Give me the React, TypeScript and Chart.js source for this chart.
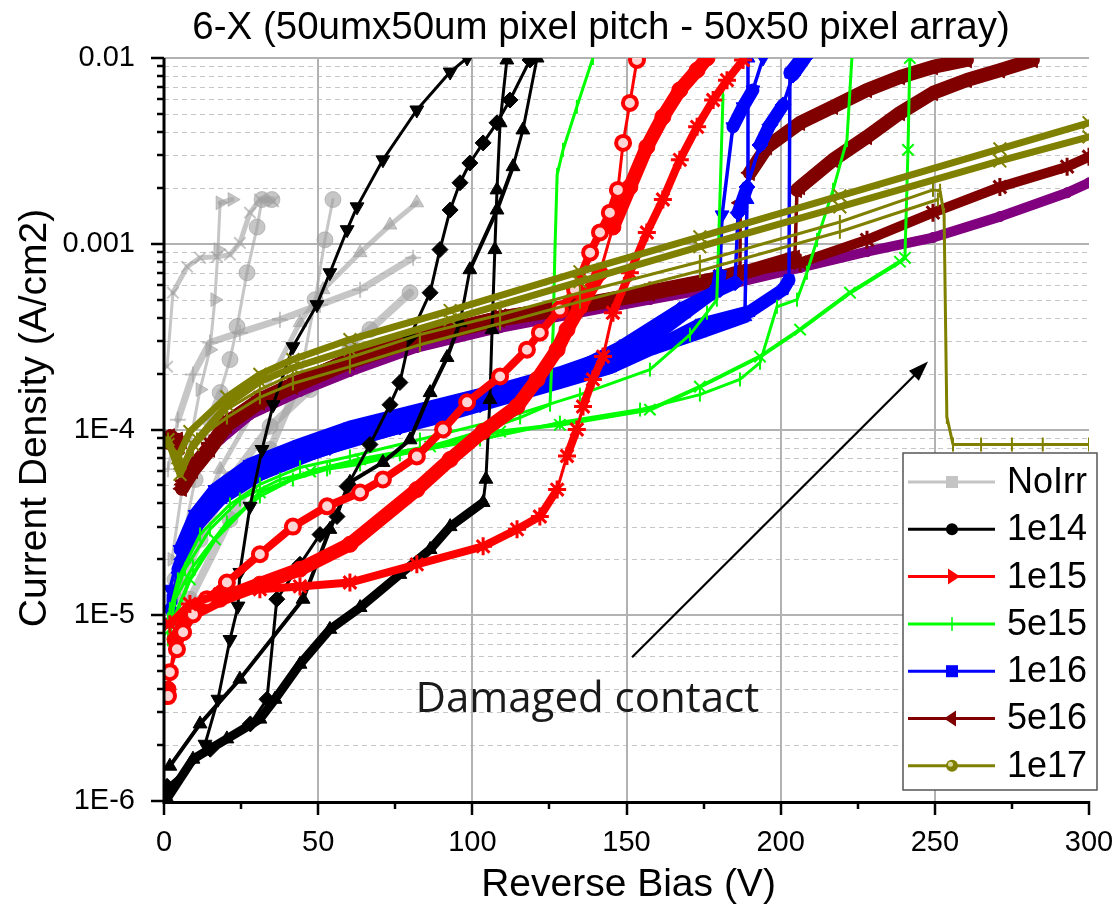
import React, { useEffect, useRef } from 'react';
import { Chart, registerables } from 'chart.js';

Chart.register(...registerables);

// ---------------- axes / labels ----------------
const xTickValues = [0, 50, 100, 150, 200, 250, 300];
const xMinorValues = [25, 75, 125, 175, 225, 275];
const yTickValues = [1e-6, 1e-5, 1e-4, 1e-3, 1e-2];
const yTickLabels = ['1E-6', '1E-5', '1E-4', '0.001', '0.01'];
const yMinorMantissas = [2, 3, 4, 5, 6, 7, 8, 9];
const legendLabels = ['NoIrr', '1e14', '1e15', '5e15', '1e16', '5e16', '1e17'];
const titleText = '6-X (50umx50um pixel pitch - 50x50 pixel array)';
const xTitle = 'Reverse Bias (V)';
const yTitle = 'Current Density (A/cm2)';
const noteText = 'Damaged contact';
const arrowFrom = [151.8, 5.94e-6];
const arrowTo = [247.8, 2.32e-4];
const noteAt = [137.3, 3.5e-6];

// ---------------- NoIrr (grey) ----------------
const nA_V = [1.0, 2.9, 7.5, 11.7, 17.2, 21.4, 24.6, 27.9, 31.1, 35.4];
const nA_J = [2.18e-4, 5.45e-4, 7.52e-4, 8.4e-4, 8.5e-4, 8.73e-4, 1.01e-3, 1.47e-3, 1.73e-3, 1.69e-3];
const nB_V = [2.6, 6.8, 11.7, 14.9, 16.5, 17.5, 18.2, 22.1];
const nB_J = [2.0e-5, 6.1e-5, 1.64e-4, 2.69e-4, 5.0e-4, 9.3e-4, 1.66e-3, 1.73e-3];
const nC_V = [3.6, 10.1, 14.9, 18.2, 21.4, 23.7, 26.9, 30.2, 31.8, 35.0];
const nC_J = [1.56e-5, 5.38e-5, 1.13e-4, 1.58e-4, 2.38e-4, 3.58e-4, 6.98e-4, 1.23e-3, 1.73e-3, 1.73e-3];
const nD_V = [1.3, 4.5, 9.4, 14.9, 24.6, 37.6, 50.6, 63.6, 80.8];
const nD_J = [6.1e-5, 1.13e-4, 1.98e-4, 2.94e-4, 3.32e-4, 3.9e-4, 4.7e-4, 5.66e-4, 8.4e-4];
const nE_V = [3.6, 11.7, 21.4, 34.4, 47.4, 60.3, 66.8, 79.8];
const nE_J = [1.22e-5, 2.56e-5, 5.38e-5, 1.04e-4, 1.64e-4, 2.86e-4, 3.45e-4, 5.45e-4];
const nF_V = [6.8, 18.2, 31.1, 44.1, 51.6, 63.6, 73.3, 82.0];
const nF_J = [2.0e-5, 6.1e-5, 1.45e-4, 3.76e-4, 5.66e-4, 8.95e-4, 1.26e-3, 1.66e-3];
const nG_V = [8.4, 21.4, 34.4, 44.1, 49.0, 52.2, 54.8];
const nG_J = [1.22e-5, 3.28e-5, 7.8e-5, 1.86e-4, 5.0e-4, 1.05e-3, 1.73e-3];

// ---------------- 1e14 (black) ----------------
const k1_V = [13.3, 17.5, 21.4, 24.0, 24.6, 27.9, 31.8, 35.4, 41.8, 49.6, 53.8, 59.4, 62.6, 71.0, 82.0, 92.8, 98.3];
const k1_J = [2.02e-6, 3.53e-6, 7.4e-6, 1.12e-5, 1.7e-5, 3.86e-5, 7.8e-5, 1.36e-4, 2.79e-4, 4.7e-4, 6.98e-4, 1.19e-3, 1.58e-3, 2.83e-3, 5.25e-3, 8.4e-3, 1e-2];
const k2_V = [1.0, 15.0, 28.0, 33.4, 36.6, 44.1, 50.6, 56.1, 59.4, 66.8, 73.3, 76.5, 79.8, 86.3, 89.5, 92.8, 96.0, 99.2, 103.5, 108.0, 112.2, 118.7];
const k2_J = [1.2e-6, 1.9e-6, 2.6e-6, 3.53e-6, 1.22e-5, 1.88e-5, 2.72e-5, 3.4e-5, 4.94e-5, 8.3e-5, 1.36e-4, 1.79e-4, 3.16e-4, 5.45e-4, 9.3e-4, 1.52e-3, 2.13e-3, 2.72e-3, 3.49e-3, 4.48e-3, 5.94e-3, 9.76e-3];
const k3_V = [1.0, 9.4, 20.4, 31.1, 36.0, 44.1, 53.8, 63.6, 76.5, 86.3, 92.8, 103.5, 104.4, 105.7, 106.4, 107.3, 108.0, 109.0, 111.2];
const k3_J = [1.03e-6, 1.68e-6, 2.16e-6, 2.76e-6, 3.53e-6, 5.45e-6, 8.4e-6, 1.1e-5, 1.66e-5, 2.26e-5, 3.0e-5, 4.05e-5, 5.4e-5, 1.45e-4, 3.45e-4, 9.3e-4, 1.95e-3, 4.48e-3, 9.76e-3];
const k4_V = [1.9, 11.7, 24.6, 45.1, 53.8, 60.3, 71.0, 79.8, 86.3, 91.8, 96.0, 99.2, 108.0, 113.2, 116.4, 121.0];
const k4_J = [1.54e-6, 2.6e-6, 4.53e-6, 1.22e-5, 2.9e-5, 5.2e-5, 6.65e-5, 8.8e-5, 1.58e-4, 2.44e-4, 3.76e-4, 7.25e-4, 1.52e-3, 2.6e-3, 4.1e-3, 1e-2];

// ---------------- 1e15 (red) ----------------
const r1_V = [1.9, 8.4, 18.2, 31.1, 44.1, 60.3, 82.0, 103.5, 114.5, 121.9, 127.5, 130.7, 133.9, 135.9, 139.1, 142.4, 145.6, 151.1, 156.6, 161.8, 167.3, 172.9, 178.1, 182.6, 187.8];
const r1_J = [8.95e-6, 1.15e-5, 1.3e-5, 1.38e-5, 1.43e-5, 1.5e-5, 1.88e-5, 2.35e-5, 2.9e-5, 3.4e-5, 4.75e-5, 7.2e-5, 1e-4, 1.33e-4, 1.86e-4, 2.47e-4, 4.25e-4, 6.98e-4, 1.15e-3, 1.73e-3, 2.83e-3, 4.26e-3, 5.94e-3, 7.6e-3, 9.76e-3];
const r2_V = [1.3, 1.9, 4.2, 6.2, 9.4, 13.9, 20.4, 31.1, 41.8, 52.9, 63.6, 71.0, 82.0, 90.5, 98.3, 109.0, 117.7, 121.9, 128.4, 133.3, 138.2, 141.4, 144.6, 147.2, 148.9, 151.1, 153.4];
const r2_J = [3.67e-6, 4.94e-6, 6.56e-6, 8.1e-6, 1.01e-5, 1.22e-5, 1.5e-5, 2.13e-5, 3.0e-5, 3.86e-5, 4.58e-5, 5.38e-5, 7.16e-5, 1e-4, 1.4e-4, 1.93e-4, 2.69e-4, 3.32e-4, 4.42e-4, 5.66e-4, 8.95e-4, 1.15e-3, 1.47e-3, 1.95e-3, 3.49e-3, 5.73e-3, 9.76e-3];
const r3_V = [1.3, 3.6, 8.4, 18.2, 31.1, 44.1, 60.3, 82.0, 92.8, 103.5, 114.5, 121.0, 127.5, 130.7, 134.9, 141.4, 145.6, 151.1, 156.6, 161.8, 167.3, 172.9, 176.1];
const r3_J = [4.0e-6, 7.4e-6, 1.01e-5, 1.22e-5, 1.47e-5, 1.77e-5, 2.41e-5, 4.75e-5, 6.9e-5, 9.76e-5, 1.33e-4, 1.86e-4, 2.69e-4, 3.45e-4, 4.58e-4, 6.98e-4, 1.23e-3, 2.02e-3, 3.32e-3, 4.82e-3, 6.73e-3, 8.6e-3, 1e-2];

// ---------------- 5e15 (green) ----------------
const g1_V = [1.3, 3.6, 9.4, 20.4, 31.1, 41.8, 52.9, 63.6, 83.0, 102.5, 115.5, 125.2, 126.2, 126.8, 127.5, 129.4, 133.9, 139.1];
const g1_J = [7.43e-6, 1.22e-5, 1.83e-5, 3.16e-5, 4.36e-5, 5.38e-5, 6.1e-5, 6.49e-5, 7.8e-5, 9.75e-5, 1.16e-4, 1.36e-4, 3.45e-4, 9.3e-4, 2.35e-3, 3.2e-3, 5.46e-3, 1e-2];
const g2_V = [1.3, 4.5, 11.7, 21.4, 31.1, 44.1, 60.3, 83.0, 109.0, 134.9, 157.6, 170.6, 176.1, 179.3, 180.3, 181.3];
const g2_J = [9.5e-6, 1.56e-5, 2.72e-5, 3.95e-5, 5.06e-5, 6.25e-5, 7.16e-5, 8.83e-5, 1.13e-4, 1.54e-4, 2.1e-4, 3.24e-4, 4.26e-4, 5.0e-4, 1.73e-3, 6.32e-3];
const g3_V = [1.9, 6.8, 14.9, 24.6, 37.6, 53.8, 76.5, 102.5, 128.4, 154.4, 173.8, 186.8, 193.3, 198.8, 205.3, 208.5, 211.8, 217.0, 221.5, 223.1];
const g3_J = [1.08e-5, 1.77e-5, 2.9e-5, 4.2e-5, 5.38e-5, 6.25e-5, 7.34e-5, 8.83e-5, 1.09e-4, 1.28e-4, 1.54e-4, 1.86e-4, 2.29e-4, 4.58e-4, 5.0e-4, 6.98e-4, 1.05e-3, 1.95e-3, 3.62e-3, 1e-2];
const g4_V = [1.9, 8.4, 16.5, 31.1, 47.4, 63.6, 86.3, 109.0, 128.4, 157.6, 173.8, 193.3, 206.3, 222.5, 238.7, 240.3, 241.3, 241.9];
const g4_J = [8.4e-6, 1.56e-5, 2.56e-5, 4.58e-5, 5.94e-5, 6.9e-5, 8.1e-5, 9.75e-5, 1.06e-4, 1.28e-4, 1.7e-4, 2.47e-4, 3.45e-4, 5.45e-4, 8.0e-4, 8.4e-4, 3.2e-3, 1e-2];

// ---------------- 1e16 (blue) ----------------
const b1_V = [1.9, 5.2, 10.1, 16.5, 27.9, 44.1, 60.3, 83.0, 109.0, 128.4, 147.9, 157.6, 170.6, 179.3, 180.3, 181.0, 184.5, 187.8, 191.0, 194.3];
const b1_J = [1.38e-5, 2.26e-5, 3.49e-5, 4.75e-5, 6.49e-5, 8.3e-5, 1.03e-4, 1.28e-4, 1.64e-4, 2.02e-4, 2.62e-4, 3.05e-4, 4.42e-4, 5.66e-4, 6.8e-4, 1.43e-3, 4.26e-3, 5.46e-3, 6.73e-3, 1e-2];
const b2_V = [1.3, 4.5, 10.1, 18.2, 31.1, 47.4, 63.6, 86.3, 109.0, 128.4, 144.6, 157.6, 173.8, 188.4, 189.1, 189.4];
const b2_J = [8.95e-6, 1.77e-5, 2.97e-5, 4.2e-5, 5.73e-5, 7.34e-5, 9.06e-5, 1.13e-4, 1.45e-4, 1.79e-4, 2.15e-4, 2.69e-4, 3.32e-4, 4.05e-4, 1.73e-3, 1e-2];
const b3_V = [2.6, 6.8, 13.3, 24.6, 40.9, 60.3, 83.0, 109.0, 128.4, 147.9, 160.9, 173.8, 190.0, 200.8, 202.7, 203.0, 206.3];
const b3_J = [1.22e-5, 2.41e-5, 3.95e-5, 5.52e-5, 7.06e-5, 8.83e-5, 1.13e-4, 1.49e-4, 1.86e-4, 2.44e-4, 2.86e-4, 3.67e-4, 4.31e-4, 5.66e-4, 6.4e-4, 8.3e-3, 9.76e-3];
const b4_V = [1.9, 5.8, 11.7, 21.4, 37.6, 53.8, 76.5, 102.5, 128.4, 147.9, 167.3, 180.3, 185.2, 186.2, 189.1, 193.3, 196.5, 200.8, 204.0, 207.9];
const b4_J = [1.08e-5, 2.0e-5, 3.28e-5, 4.75e-5, 6.49e-5, 8.0e-5, 1.03e-4, 1.36e-4, 1.91e-4, 2.76e-4, 4.42e-4, 5.66e-4, 6.17e-4, 1.47e-3, 2.02e-3, 3.4e-3, 4.37e-3, 5.59e-3, 8.1e-3, 1e-2];

// ---------------- 5e16 (dark red) + purple ----------------
const d1_V = [1.9, 4.5, 6.2, 9.4, 14.9, 20.4, 31.1, 41.8, 60.3, 82.0, 109.0, 134.9, 157.6, 180.3, 186.8, 186.9, 190.0, 195.6, 206.3, 217.0, 228.0, 238.7, 249.4, 260.4];
const d1_J = [9.17e-5, 8.3e-5, 5.06e-5, 6.32e-5, 8.1e-5, 1.09e-4, 1.45e-4, 1.75e-4, 2.38e-4, 3.13e-4, 4.0e-4, 4.7e-4, 5.52e-4, 6.56e-4, 7.07e-4, 1.66e-3, 2.41e-3, 3.32e-3, 4.48e-3, 5.46e-3, 6.73e-3, 7.9e-3, 8.95e-3, 9.76e-3];
const d2_V = [1.3, 4.5, 5.8, 9.4, 14.9, 20.4, 31.1, 41.8, 60.3, 82.0, 109.0, 134.9, 157.6, 180.3, 204.6, 205.3, 206.3, 217.0, 228.0, 238.7, 249.4, 260.4, 271.1, 281.8];
const d2_J = [8.5e-5, 8.8e-5, 4.8e-5, 6.0e-5, 7.8e-5, 1.05e-4, 1.4e-4, 1.7e-4, 2.3e-4, 3.05e-4, 3.9e-4, 4.6e-4, 5.4e-4, 6.4e-4, 8.4e-4, 1.95e-3, 2.02e-3, 2.83e-3, 3.76e-3, 5.06e-3, 6.49e-3, 7.62e-3, 8.6e-3, 9.76e-3];
const d3_V = [1.9, 4.5, 6.5, 9.4, 14.9, 20.4, 31.1, 41.8, 60.3, 82.0, 109.0, 134.9, 157.6, 180.3, 206.3, 228.0, 249.4, 271.1, 292.9, 300];
const d3_J = [9.0e-5, 8.0e-5, 5.3e-5, 6.5e-5, 8.4e-5, 1.12e-4, 1.48e-4, 1.8e-4, 2.44e-4, 3.2e-4, 4.1e-4, 4.8e-4, 5.6e-4, 6.7e-4, 7.9e-4, 1.05e-3, 1.47e-3, 2.02e-3, 2.6e-3, 2.94e-3];
const p1_V = [6.8, 11.7, 18.2, 27.9, 44.1, 60.3, 82.0, 109.0, 134.9, 157.6, 180.3, 206.3, 228.0, 249.4, 271.1, 292.9, 300];
const p1_J = [5.73e-5, 7.06e-5, 8.83e-5, 1.2e-4, 1.6e-4, 2.05e-4, 2.76e-4, 3.53e-4, 4.26e-4, 5.0e-4, 5.87e-4, 7.43e-4, 9.06e-4, 1.08e-3, 1.4e-3, 1.88e-3, 2.13e-3];

// ---------------- 1e17 (olive) ----------------
const o1_V = [1.3, 4.5, 8.4, 20.4, 31.1, 41.8, 60.3, 92.8, 134.9, 173.8, 219.2, 271.1, 300];
const o1_J = [8.3e-5, 7.06e-5, 9.75e-5, 1.5e-4, 1.98e-4, 2.38e-4, 3.05e-4, 4.37e-4, 7.07e-4, 1.09e-3, 1.81e-3, 3.24e-3, 4.48e-3];
const o2_V = [1.3, 5.2, 9.4, 20.4, 31.1, 41.8, 60.3, 92.8, 134.9, 173.8, 219.2, 271.1, 300];
const o2_J = [8.83e-5, 5.73e-5, 8.3e-5, 1.36e-4, 1.81e-4, 2.15e-4, 2.69e-4, 3.9e-4, 6.25e-4, 9.64e-4, 1.58e-3, 2.79e-3, 3.76e-3];
const o3_V = [1.3, 5.2, 9.4, 20.4, 31.1, 41.8, 60.3, 83.0, 109.0, 134.9, 173.8, 219.2, 249.4, 251.7, 253.0, 253.9, 255.9, 265, 275, 285, 300];
const o3_J = [8.83e-5, 6.1e-5, 7.8e-5, 1.28e-4, 1.64e-4, 1.98e-4, 2.44e-4, 3.24e-4, 4.15e-4, 5.45e-4, 8.0e-4, 1.31e-3, 1.95e-3, 1.93e-3, 1.43e-3, 1.17e-4, 8.3e-5, 8.3e-5, 8.3e-5, 8.3e-5, 8.3e-5];
const o4_V = [1.9, 5.8, 10.7, 20.4, 31.1, 41.8, 60.3, 83.0, 109.0, 134.9, 173.8, 219.2, 251.0];
const o4_J = [8.3e-5, 6.49e-5, 8.83e-5, 1.16e-4, 1.49e-4, 1.77e-4, 2.18e-4, 2.86e-4, 3.72e-4, 4.88e-4, 7.16e-4, 1.16e-3, 1.73e-3];

// ---------------- styles ----------------
const FONT = "'Liberation Sans', Arial, Helvetica, sans-serif";
const GRAY = 'rgba(160,160,160,0.6)';
const BLACK = '#000000';
const RED = '#ff0000';
const GREEN = '#00ff00';
const BLUE = '#0000ff';
const MAROON = '#800000';
const PURPLE = '#800080';
const OLIVE = '#808000';
const legendColors = ['#c4c4c4', BLACK, RED, GREEN, BLUE, MAROON, OLIVE];
const legendMarkers = ['square', 'circle', 'triRight', 'tick', 'square', 'triLeft', 'circleHi'];

type St = { c: string; bw: number; r: number; ps: string; rot?: number; pbw?: number; pbg?: string; o: number; thin?: number };

const curves: [number[], number[], St][] = [
  [nA_V, nA_J, { c: GRAY, bw: 5, r: 8, ps: 'crossRot', pbw: 2, o: 9 }],
  [nB_V, nB_J, { c: GRAY, bw: 5, r: 8, ps: 'triangle', rot: 90, o: 9 }],
  [nC_V, nC_J, { c: GRAY, bw: 7, r: 8, ps: 'circle', o: 9 }],
  [nD_V, nD_J, { c: GRAY, bw: 7, r: 8, ps: 'cross', pbw: 2, o: 9 }],
  [nE_V, nE_J, { c: GRAY, bw: 8, r: 8, ps: 'circle', o: 9 }],
  [nF_V, nF_J, { c: GRAY, bw: 5, r: 8, ps: 'triangle', o: 9 }],
  [nG_V, nG_J, { c: GRAY, bw: 8, r: 8, ps: 'circle', o: 9 }],
  [k1_V, k1_J, { c: BLACK, bw: 3, r: 8, ps: 'triangle', rot: 180, o: 3 }],
  [k2_V, k2_J, { c: BLACK, bw: 3, r: 8, ps: 'rectRot', o: 3 }],
  [k3_V, k3_J, { c: BLACK, bw: 9, r: 8, ps: 'triangle', o: 3, thin: 3 }],
  [k4_V, k4_J, { c: BLACK, bw: 4, r: 8, ps: 'triangle', o: 3 }],
  [r1_V, r1_J, { c: RED, bw: 8, r: 9, ps: 'star', pbw: 3, o: 2 }],
  [r2_V, r2_J, { c: RED, bw: 8, r: 7, ps: 'circle', pbg: '#ffd4d4', pbw: 4, o: 2 }],
  [r3_V, r3_J, { c: RED, bw: 14, r: 8, ps: 'circle', o: 2 }],
  [g1_V, g1_J, { c: GREEN, bw: 3, r: 7, ps: 'line', rot: 90, pbw: 2, o: 4 }],
  [g2_V, g2_J, { c: GREEN, bw: 3, r: 7, ps: 'line', rot: 90, pbw: 2, o: 4 }],
  [g3_V, g3_J, { c: GREEN, bw: 3, r: 7, ps: 'line', rot: 90, pbw: 2, o: 4 }],
  [g4_V, g4_J, { c: GREEN, bw: 4, r: 8, ps: 'crossRot', pbw: 2, o: 4 }],
  [b1_V, b1_J, { c: BLUE, bw: 13, r: 8, ps: 'triangle', rot: 180, o: 5, thin: 3.5 }],
  [b2_V, b2_J, { c: BLUE, bw: 13, r: 8, ps: 'triangle', o: 5, thin: 3.5 }],
  [b3_V, b3_J, { c: BLUE, bw: 13, r: 7, ps: 'rect', o: 5, thin: 3.5 }],
  [b4_V, b4_J, { c: BLUE, bw: 13, r: 8, ps: 'rectRot', o: 5, thin: 3.5 }],
  [p1_V, p1_J, { c: PURPLE, bw: 10, r: 5, ps: 'circle', o: 7 }],
  [d1_V, d1_J, { c: MAROON, bw: 14, r: 9, ps: 'triangle', rot: -90, o: 6, thin: 3.5 }],
  [d2_V, d2_J, { c: MAROON, bw: 14, r: 9, ps: 'triangle', rot: -90, o: 6, thin: 3.5 }],
  [d3_V, d3_J, { c: MAROON, bw: 10, r: 9, ps: 'star', pbw: 3, o: 6, thin: 3.5 }],
  [o1_V, o1_J, { c: OLIVE, bw: 7, r: 9, ps: 'crossRot', pbw: 2, o: 1 }],
  [o2_V, o2_J, { c: OLIVE, bw: 7, r: 9, ps: 'crossRot', pbw: 2, o: 1 }],
  [o3_V, o3_J, { c: OLIVE, bw: 3, r: 7, ps: 'line', rot: 90, pbw: 2, o: 1 }],
  [o4_V, o4_J, { c: OLIVE, bw: 3, r: 7, ps: 'line', rot: 90, pbw: 2, o: 1 }],
];

function buildDatasets() {
  return curves.map(([v, j, s], i) => {
    const thin = s.thin ?? 3;
    return {
      label: 'c' + i,
      data: v.map((x, k) => ({ x, y: j[k] })),
      showLine: true,
      tension: 0,
      borderColor: s.c,
      backgroundColor: s.c,
      borderWidth: s.bw,
      borderJoinStyle: 'round',
      borderCapStyle: 'round',
      pointStyle: s.ps,
      pointRadius: s.r,
      pointRotation: s.rot ?? 0,
      pointBorderWidth: s.pbw ?? 1,
      pointBorderColor: s.c,
      pointBackgroundColor: s.pbg ?? s.c,
      order: s.o,
      segment: {
        borderWidth: (ctx: any) => {
          const dx = Math.abs(ctx.p1.x - ctx.p0.x);
          const dy = Math.abs(ctx.p1.y - ctx.p0.y);
          return dy > 18 && dy > 3 * dx ? Math.min(thin, s.bw) : s.bw;
        },
      },
    };
  });
}

function drawLegendMarker(ctx: CanvasRenderingContext2D, kind: string, x: number, y: number, color: string) {
  ctx.fillStyle = color;
  ctx.strokeStyle = color;
  ctx.beginPath();
  if (kind === 'square') {
    ctx.rect(x - 6, y - 6, 12, 12);
    ctx.fill();
  } else if (kind === 'circle') {
    ctx.arc(x, y, 6, 0, Math.PI * 2);
    ctx.fill();
  } else if (kind === 'circleHi') {
    ctx.arc(x, y, 6, 0, Math.PI * 2);
    ctx.fill();
    ctx.beginPath();
    ctx.fillStyle = '#d8d8a0';
    ctx.arc(x - 1.5, y - 1.5, 2.5, 0, Math.PI * 2);
    ctx.fill();
  } else if (kind === 'triRight') {
    ctx.moveTo(x + 8, y);
    ctx.lineTo(x - 4, y - 8);
    ctx.lineTo(x - 4, y + 8);
    ctx.closePath();
    ctx.fill();
  } else if (kind === 'triLeft') {
    ctx.moveTo(x - 8, y);
    ctx.lineTo(x + 4, y - 8);
    ctx.lineTo(x + 4, y + 8);
    ctx.closePath();
    ctx.fill();
  } else if (kind === 'tick') {
    ctx.lineWidth = 1.5;
    ctx.moveTo(x, y - 7);
    ctx.lineTo(x, y + 7);
    ctx.stroke();
  }
}

const decorPlugin = {
  id: 'decor',
  beforeDatasetsDraw(chart: any) {
    const { ctx, chartArea: a, scales } = chart;
    const xs = scales.x;
    const ys = scales.y;
    ctx.save();
    ctx.strokeStyle = '#c6c6c6';
    ctx.lineWidth = 1;
    ctx.setLineDash([5, 4]);
    for (let d = 0; d < yTickValues.length - 1; d++) {
      for (const m of yMinorMantissas) {
        const py = Math.round(ys.getPixelForValue(m * yTickValues[d])) + 0.5;
        ctx.beginPath();
        ctx.moveTo(a.left, py);
        ctx.lineTo(a.right, py);
        ctx.stroke();
      }
    }
    ctx.setLineDash([]);
    ctx.strokeStyle = '#b2b2b2';
    ctx.lineWidth = 2;
    for (let d = 1; d < yTickValues.length; d++) {
      const py = Math.round(ys.getPixelForValue(yTickValues[d]));
      ctx.beginPath();
      ctx.moveTo(a.left, py);
      ctx.lineTo(a.right, py);
      ctx.stroke();
    }
    for (let i = 1; i < xTickValues.length - 1; i++) {
      const px = Math.round(xs.getPixelForValue(xTickValues[i]));
      ctx.beginPath();
      ctx.moveTo(px, a.top);
      ctx.lineTo(px, a.bottom);
      ctx.stroke();
    }
    ctx.restore();
  },
  afterDatasetsDraw(chart: any) {
    const { ctx, chartArea: a, scales } = chart;
    const xs = scales.x;
    const ys = scales.y;
    ctx.save();
    const x1 = xs.getPixelForValue(arrowFrom[0]);
    const y1 = ys.getPixelForValue(arrowFrom[1]);
    const x2 = xs.getPixelForValue(arrowTo[0]);
    const y2 = ys.getPixelForValue(arrowTo[1]);
    const ang = Math.atan2(y2 - y1, x2 - x1);
    const hl = 20;
    const hw = 7;
    ctx.strokeStyle = '#000';
    ctx.fillStyle = '#000';
    ctx.lineWidth = 2.2;
    ctx.beginPath();
    ctx.moveTo(x1, y1);
    ctx.lineTo(x2 - Math.cos(ang) * hl * 0.8, y2 - Math.sin(ang) * hl * 0.8);
    ctx.stroke();
    ctx.beginPath();
    ctx.moveTo(x2, y2);
    ctx.lineTo(x2 - Math.cos(ang) * hl - Math.sin(ang) * hw, y2 - Math.sin(ang) * hl + Math.cos(ang) * hw);
    ctx.lineTo(x2 - Math.cos(ang) * hl + Math.sin(ang) * hw, y2 - Math.sin(ang) * hl - Math.cos(ang) * hw);
    ctx.closePath();
    ctx.fill();
    ctx.font = "42px 'Open Sans', 'Liberation Sans', sans-serif";
    ctx.fillStyle = '#1a1a1a';
    ctx.textAlign = 'center';
    ctx.textBaseline = 'middle';
    ctx.fillText(noteText, xs.getPixelForValue(noteAt[0]), ys.getPixelForValue(noteAt[1]));

    ctx.strokeStyle = '#000';
    ctx.lineWidth = 3;
    ctx.beginPath();
    ctx.moveTo(a.left, a.top);
    ctx.lineTo(a.left, a.bottom + 1.5);
    ctx.lineTo(a.right + 1, a.bottom + 1.5);
    ctx.stroke();
    ctx.lineWidth = 2.5;
    for (const v of yTickValues) {
      const py = Math.round(ys.getPixelForValue(v));
      ctx.beginPath();
      ctx.moveTo(a.left, py);
      ctx.lineTo(a.left - 13, py);
      ctx.stroke();
    }
    for (let d = 0; d < yTickValues.length - 1; d++) {
      for (const m of yMinorMantissas) {
        const py = Math.round(ys.getPixelForValue(m * yTickValues[d]));
        ctx.beginPath();
        ctx.moveTo(a.left, py);
        ctx.lineTo(a.left - 7, py);
        ctx.stroke();
      }
    }
    for (const v of xTickValues) {
      const px = Math.round(xs.getPixelForValue(v));
      ctx.beginPath();
      ctx.moveTo(px, a.bottom);
      ctx.lineTo(px, a.bottom + 14);
      ctx.stroke();
    }
    for (const v of xMinorValues) {
      const px = Math.round(xs.getPixelForValue(v));
      ctx.beginPath();
      ctx.moveTo(px, a.bottom);
      ctx.lineTo(px, a.bottom + 8);
      ctx.stroke();
    }
    ctx.restore();
  },
  afterDraw(chart: any) {
    const { ctx, chartArea: a } = chart;
    ctx.save();
    const w = 194;
    const h = 337;
    const right = a.right + 8;
    const bottom = a.bottom - 11;
    const left = right - w;
    const top = bottom - h;
    ctx.fillStyle = '#ffffff';
    ctx.fillRect(left, top, w, h);
    ctx.strokeStyle = '#555';
    ctx.lineWidth = 1.5;
    ctx.strokeRect(left, top, w, h);
    ctx.font = `36px ${FONT}`;
    ctx.textAlign = 'left';
    ctx.textBaseline = 'middle';
    legendLabels.forEach((lab, i) => {
      const cy = top + 29 + i * 47.3;
      ctx.strokeStyle = legendColors[i];
      ctx.lineWidth = 3;
      ctx.beginPath();
      ctx.moveTo(left + 5, cy);
      ctx.lineTo(left + 92, cy);
      ctx.stroke();
      drawLegendMarker(ctx, legendMarkers[i], left + 49, cy, legendColors[i]);
      ctx.fillStyle = '#000';
      ctx.fillText(lab, left + 104, cy + 1);
    });
    ctx.fillStyle = '#000';
    ctx.textAlign = 'center';
    ctx.textBaseline = 'middle';
    ctx.font = `38.5px ${FONT}`;
    ctx.fillText(titleText, 593, 20);
    ctx.font = `39px ${FONT}`;
    ctx.fillText(xTitle, (a.left + a.right) / 2 + 2, 877);
    ctx.translate(27, 410);
    ctx.rotate(-Math.PI / 2);
    ctx.fillText(yTitle, 0, 0);
    ctx.restore();
  },
};

export default function App() {
  const ref = useRef<HTMLCanvasElement | null>(null);
  useEffect(() => {
    const canvas = ref.current;
    if (!canvas) return;
    const chart = new Chart(canvas, {
      type: 'scatter',
      data: { datasets: buildDatasets() as any },
      options: {
        responsive: false,
        animation: false,
        devicePixelRatio: 1,
        layout: { autoPadding: false, padding: { top: 50, right: 23, left: 0, bottom: 0 } },
        plugins: { legend: { display: false }, tooltip: { enabled: false }, title: { display: false } },
        scales: {
          x: {
            type: 'linear',
            min: 0,
            max: 300,
            afterBuildTicks: (s: any) => {
              s.ticks = xTickValues.map((value) => ({ value }));
            },
            afterFit: (s: any) => {
              s.height = 111;
              s.paddingLeft = 0;
              s.paddingRight = 0;
            },
            ticks: {
              autoSkip: false,
              maxRotation: 0,
              padding: 25,
              color: '#000',
              font: { family: FONT, size: 29 },
              callback: (_v: any, i: number) => String(xTickValues[i]),
            },
            grid: { display: false, drawTicks: false },
            border: { display: false },
          },
          y: {
            type: 'logarithmic',
            min: 1e-6,
            max: 1e-2,
            afterBuildTicks: (s: any) => {
              s.ticks = yTickValues.map((value) => ({ value }));
            },
            afterFit: (s: any) => {
              s.width = 156;
              s.paddingTop = 0;
              s.paddingBottom = 0;
            },
            ticks: {
              autoSkip: false,
              padding: 29,
              color: '#000',
              font: { family: FONT, size: 29 },
              callback: (_v: any, i: number) => yTickLabels[i],
            },
            grid: { display: false, drawTicks: false },
            border: { display: false },
          },
        },
      } as any,
      plugins: [decorPlugin],
    });
    return () => chart.destroy();
  }, []);
  return (
    <div style={{ width: 1104, height: 904 }}>
      <canvas ref={ref} width={1104} height={904} style={{ display: 'block' }} />
    </div>
  );
}
